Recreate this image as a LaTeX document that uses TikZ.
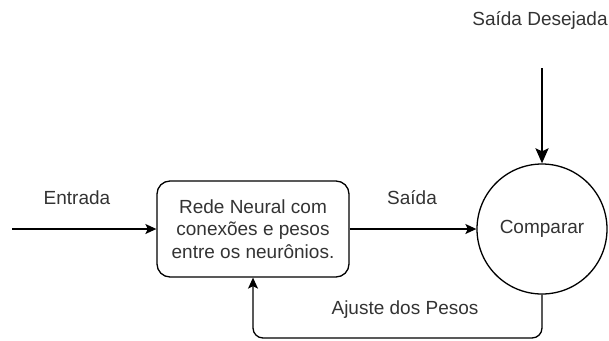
\documentclass[tikz,border=0pt]{standalone}
\usepackage{fontspec}
\setmainfont{Liberation Sans}
\usepackage{xcolor}
\usetikzlibrary{arrows.meta}
\definecolor{txt}{RGB}{51,51,51}

\begin{document}
\begin{tikzpicture}[x=1pt,y=-1pt,line width=1.3pt,
  font=\fontsize{19}{22.5}\selectfont,
  arr/.style={-{Stealth[length=11pt,width=10pt,inset=2.5pt]}},
  lbl/.style={text=txt,inner sep=0pt}]
\useasboundingbox (0,0) rectangle (609,340);

\node[draw,rounded corners=13pt,minimum width=192pt,minimum height=96pt,
  align=center,text=txt] (rede) at (253,229)
  {Rede Neural com\\conexões e pesos\\entre os neurônios.};
\node[draw,circle,minimum size=130pt,inner sep=0pt,text=txt] (comp) at (542,229) {Comparar};

\coordinate (ini) at (12,229);
\coordinate (top) at (542,68);

\node[lbl] (entrada) at (77,198) {Entrada};
\node[lbl] (saida) at (412,198) {Saída};
\node[lbl] (desejada) at (540,20) {Saída Desejada};
\node[lbl] (ajuste) at (405,310) {Ajuste dos Pesos};

\draw[arr] (ini)--(rede.west);
\draw[arr] (rede.east)--(comp.west);
\draw[-{Stealth[length=15pt,width=13pt,inset=3pt]},line width=2.5pt] (top)--(comp.north);
\draw[arr,rounded corners=10pt] (comp.south)--(542,338)--(253,338)--(rede.south);

\end{tikzpicture}
\end{document}
